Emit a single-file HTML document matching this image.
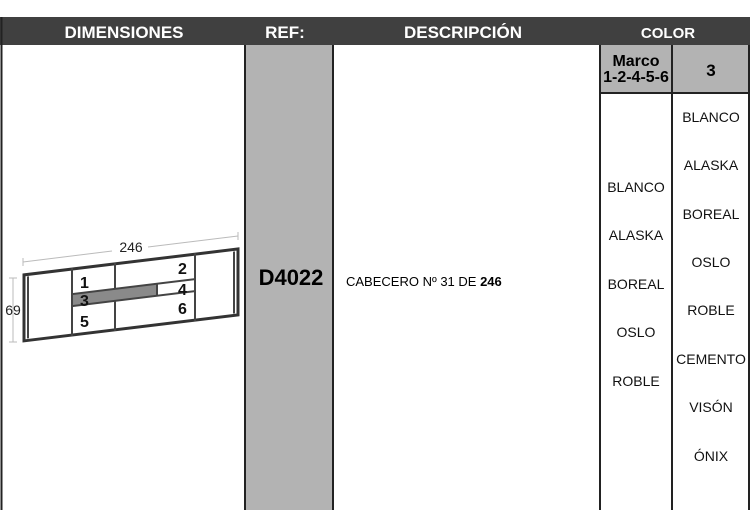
<!DOCTYPE html>
<html><head><meta charset="utf-8"><style>
body{margin:0;width:750px;height:525px;background:#fff;overflow:hidden;font-family:"Liberation Sans",Arial,sans-serif}
</style></head><body>
<svg width="750" height="525" viewBox="0 0 750 525" xmlns="http://www.w3.org/2000/svg" font-family="Liberation Sans, Arial, sans-serif">
<rect x="0" y="17" width="750" height="28" fill="#404040"/>
<text x="124" y="38" fill="#fff" font-size="17" font-weight="bold" text-anchor="middle">DIMENSIONES</text>
<text x="285" y="38" fill="#fff" font-size="17" font-weight="bold" text-anchor="middle">REF:</text>
<text x="463" y="38" fill="#fff" font-size="17" font-weight="bold" text-anchor="middle">DESCRIPCIÓN</text>
<text x="668" y="38" fill="#fff" font-size="15" font-weight="bold" text-anchor="middle">COLOR</text>
<rect x="245" y="45" width="88" height="465" fill="#b3b3b3"/>
<rect x="600" y="45" width="150" height="48" fill="#b3b3b3"/>
<g stroke="#222" stroke-width="2" fill="none">
<line x1="1.5" y1="17" x2="1.5" y2="510"/>
<line x1="245" y1="45" x2="245" y2="510"/>
<line x1="333" y1="45" x2="333" y2="510"/>
<line x1="600" y1="45" x2="600" y2="510"/>
<line x1="672" y1="45" x2="672" y2="510"/>
<line x1="749" y1="45" x2="749" y2="510"/>
<line x1="600" y1="93" x2="750" y2="93"/>
</g>
<text x="636" y="66" font-size="16" font-weight="bold" text-anchor="middle">Marco</text>
<text x="636" y="82" font-size="16" font-weight="bold" text-anchor="middle">1-2-4-5-6</text>
<text x="711" y="76" font-size="17" font-weight="bold" text-anchor="middle">3</text>
<text x="291" y="285" font-size="22" font-weight="bold" text-anchor="middle">D4022</text>
<text x="346" y="286" font-size="13">CABECERO Nº 31  DE  <tspan font-weight="bold">246</tspan></text>
<g font-size="14" text-anchor="middle" fill="#111">
<text x="636" y="192">BLANCO</text><text x="636" y="240">ALASKA</text><text x="636" y="289">BOREAL</text><text x="636" y="337">OSLO</text><text x="636" y="386">ROBLE</text>
<text x="711" y="122">BLANCO</text><text x="711" y="170">ALASKA</text><text x="711" y="219">BOREAL</text><text x="711" y="267">OSLO</text><text x="711" y="315">ROBLE</text><text x="711" y="364">CEMENTO</text><text x="711" y="412">VISÓN</text><text x="711" y="461">ÓNIX</text>
</g>
<g stroke="#bbb" stroke-width="1">
<line x1="23" y1="262" x2="112" y2="251"/><line x1="148" y1="247" x2="238" y2="236"/>
<line x1="23" y1="258" x2="23" y2="266"/><line x1="238" y1="232" x2="238" y2="240"/>
<line x1="13" y1="278" x2="13" y2="342"/><line x1="9" y1="278" x2="17" y2="278"/><line x1="9" y1="342" x2="17" y2="342"/>
</g>
<text x="131" y="252" font-size="14" text-anchor="middle" fill="#222">246</text>
<text x="13" y="315" font-size="14" text-anchor="middle" fill="#222">69</text>
<g transform="translate(23,274) skewY(-6.9)">
<rect x="49" y="26" width="85" height="12" fill="#8a8a8a"/>
<g stroke="#333" stroke-width="3" fill="none">
<rect x="1" y="1" width="214" height="66"/>
</g>
<g stroke="#444" stroke-width="2" fill="none">
<line x1="49" y1="0" x2="49" y2="68"/><line x1="172" y1="0" x2="172" y2="68"/>
<line x1="92" y1="0" x2="92" y2="26"/><line x1="92" y1="38" x2="92" y2="68"/>
<line x1="49" y1="26" x2="172" y2="26"/><line x1="49" y1="38" x2="172" y2="38"/>
<line x1="134" y1="26" x2="134" y2="38"/>
<line x1="5" y1="3" x2="5" y2="65"/><line x1="211" y1="3" x2="211" y2="65"/>
</g>
</g>
<g font-size="16" font-weight="bold" fill="#111">
<text x="80" y="288">1</text><text x="178" y="274">2</text><text x="80" y="306">3</text><text x="178" y="295">4</text><text x="80" y="327">5</text><text x="178" y="314">6</text>
</g>
</svg>
</body></html>
